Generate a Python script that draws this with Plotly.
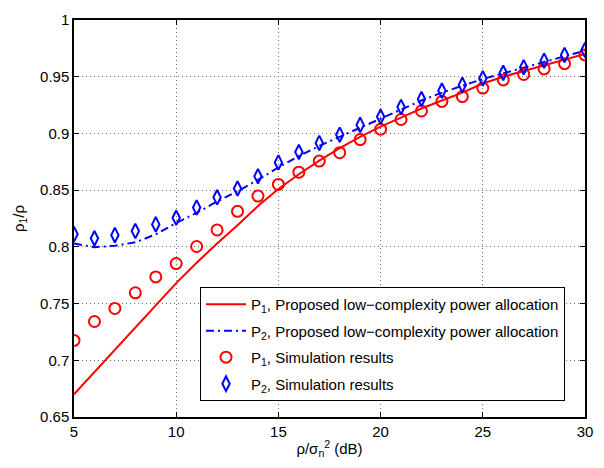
import plotly.graph_objects as go

snr_db = list(range(5, 31))

p1_proposed = [0.670, 0.6895, 0.709, 0.729, 0.748, 0.768, 0.786, 0.803, 0.819, 0.836,
               0.851, 0.864, 0.876, 0.887, 0.897, 0.906, 0.914, 0.922, 0.929, 0.936,
               0.944, 0.950, 0.955, 0.960, 0.965, 0.970]
p2_proposed = [0.803, 0.7997, 0.801, 0.804, 0.811, 0.821, 0.830, 0.840, 0.849, 0.859,
               0.870, 0.880, 0.889, 0.897, 0.905, 0.913, 0.921, 0.929, 0.936, 0.942,
               0.948, 0.953, 0.958, 0.963, 0.968, 0.973]
p1_sim = [0.7175, 0.7342, 0.7457, 0.7595, 0.7735, 0.7853, 0.8003, 0.8149, 0.8313, 0.8448,
          0.855, 0.8658, 0.8756, 0.883, 0.8946, 0.9037, 0.9123, 0.9198, 0.9282, 0.9325,
          0.940, 0.9472, 0.952, 0.9569, 0.9615, 0.9692]
p2_sim = [0.8112, 0.8075, 0.8103, 0.814, 0.8198, 0.8256, 0.8347, 0.8437, 0.8515, 0.8623,
          0.8744, 0.8836, 0.8916, 0.8989, 0.9075, 0.9147, 0.9233, 0.9304, 0.9377, 0.9428,
          0.9485, 0.9534, 0.9584, 0.9641, 0.9692, 0.9735]

x_ticks = [5, 10, 15, 20, 25, 30]
y_ticks = [0.65, 0.7, 0.75, 0.8, 0.85, 0.9, 0.95, 1.0]
y_ticktext = ["0.65", "0.7", "0.75", "0.8", "0.85", "0.9", "0.95", "1"]

names = ["P<sub>1</sub>, Proposed low\u2212complexity power allocation",
         "P<sub>2</sub>, Proposed low\u2212complexity power allocation",
         "P<sub>1</sub>, Simulation results",
         "P<sub>2</sub>, Simulation results"]

FONT = "Liberation Sans, Arial, Helvetica, sans-serif"
FS = 15

fig = go.Figure()
fig.add_trace(go.Scatter(x=snr_db, y=p1_proposed, mode="lines", name=names[0],
                         legendgroup="a",
                         line=dict(color="#ff0000", width=2)))
fig.add_trace(go.Scatter(x=snr_db, y=p2_proposed, mode="lines", name=names[1],
                         legendgroup="b",
                         line=dict(color="#0000ff", width=2, dash="8px,4px,2px,4px")))
fig.add_trace(go.Scatter(x=snr_db, y=p1_sim, mode="markers", name=names[2],
                         legendgroup="c",
                         marker=dict(symbol="circle-open", size=11, color="#ff0000",
                                     line=dict(width=2, color="#ff0000"))))
fig.add_trace(go.Scatter(x=snr_db, y=p2_sim, mode="markers", name=names[3],
                         legendgroup="d",
                         marker=dict(symbol="diamond-tall-open", size=10.5, color="#0000ff",
                                     line=dict(width=2, color="#0000ff"))))

axis_common = dict(showline=True, linecolor="black", linewidth=1.5, mirror="allticks",
                   ticks="inside", ticklen=5, tickcolor="black",
                   showgrid=True, gridcolor="#707070", gridwidth=1, griddash="1px,3px",
                   zeroline=False, tickfont=dict(family=FONT, size=FS, color="black"))

fig.update_xaxes(range=[5, 30], tickvals=x_ticks, **axis_common,
                 title=dict(text="\u03c1/\u03c3<sub>n</sub><sup>2</sup> (dB)",
                            font=dict(family=FONT, size=FS, color="black"), standoff=5))
fig.update_yaxes(range=[0.65, 1.0], tickvals=y_ticks, ticktext=y_ticktext, **axis_common,
                 title=dict(text="\u03c1<sub>1</sub>/\u03c1",
                            font=dict(family=FONT, size=FS, color="black"), standoff=12))

fig.update_layout(
    width=604, height=468,
    margin=dict(l=74, r=19, t=11, b=51),
    plot_bgcolor="white", paper_bgcolor="white",
    font=dict(family=FONT, size=FS, color="black"),
    legend=dict(x=0.2466, y=0.3276, xanchor="left", yanchor="top",
                bgcolor="white", bordercolor="black", borderwidth=1,
                font=dict(family=FONT, size=FS, color="black"),
                itemwidth=40, tracegroupgap=4),
    showlegend=True,
)

fig.write_html("out.html")
